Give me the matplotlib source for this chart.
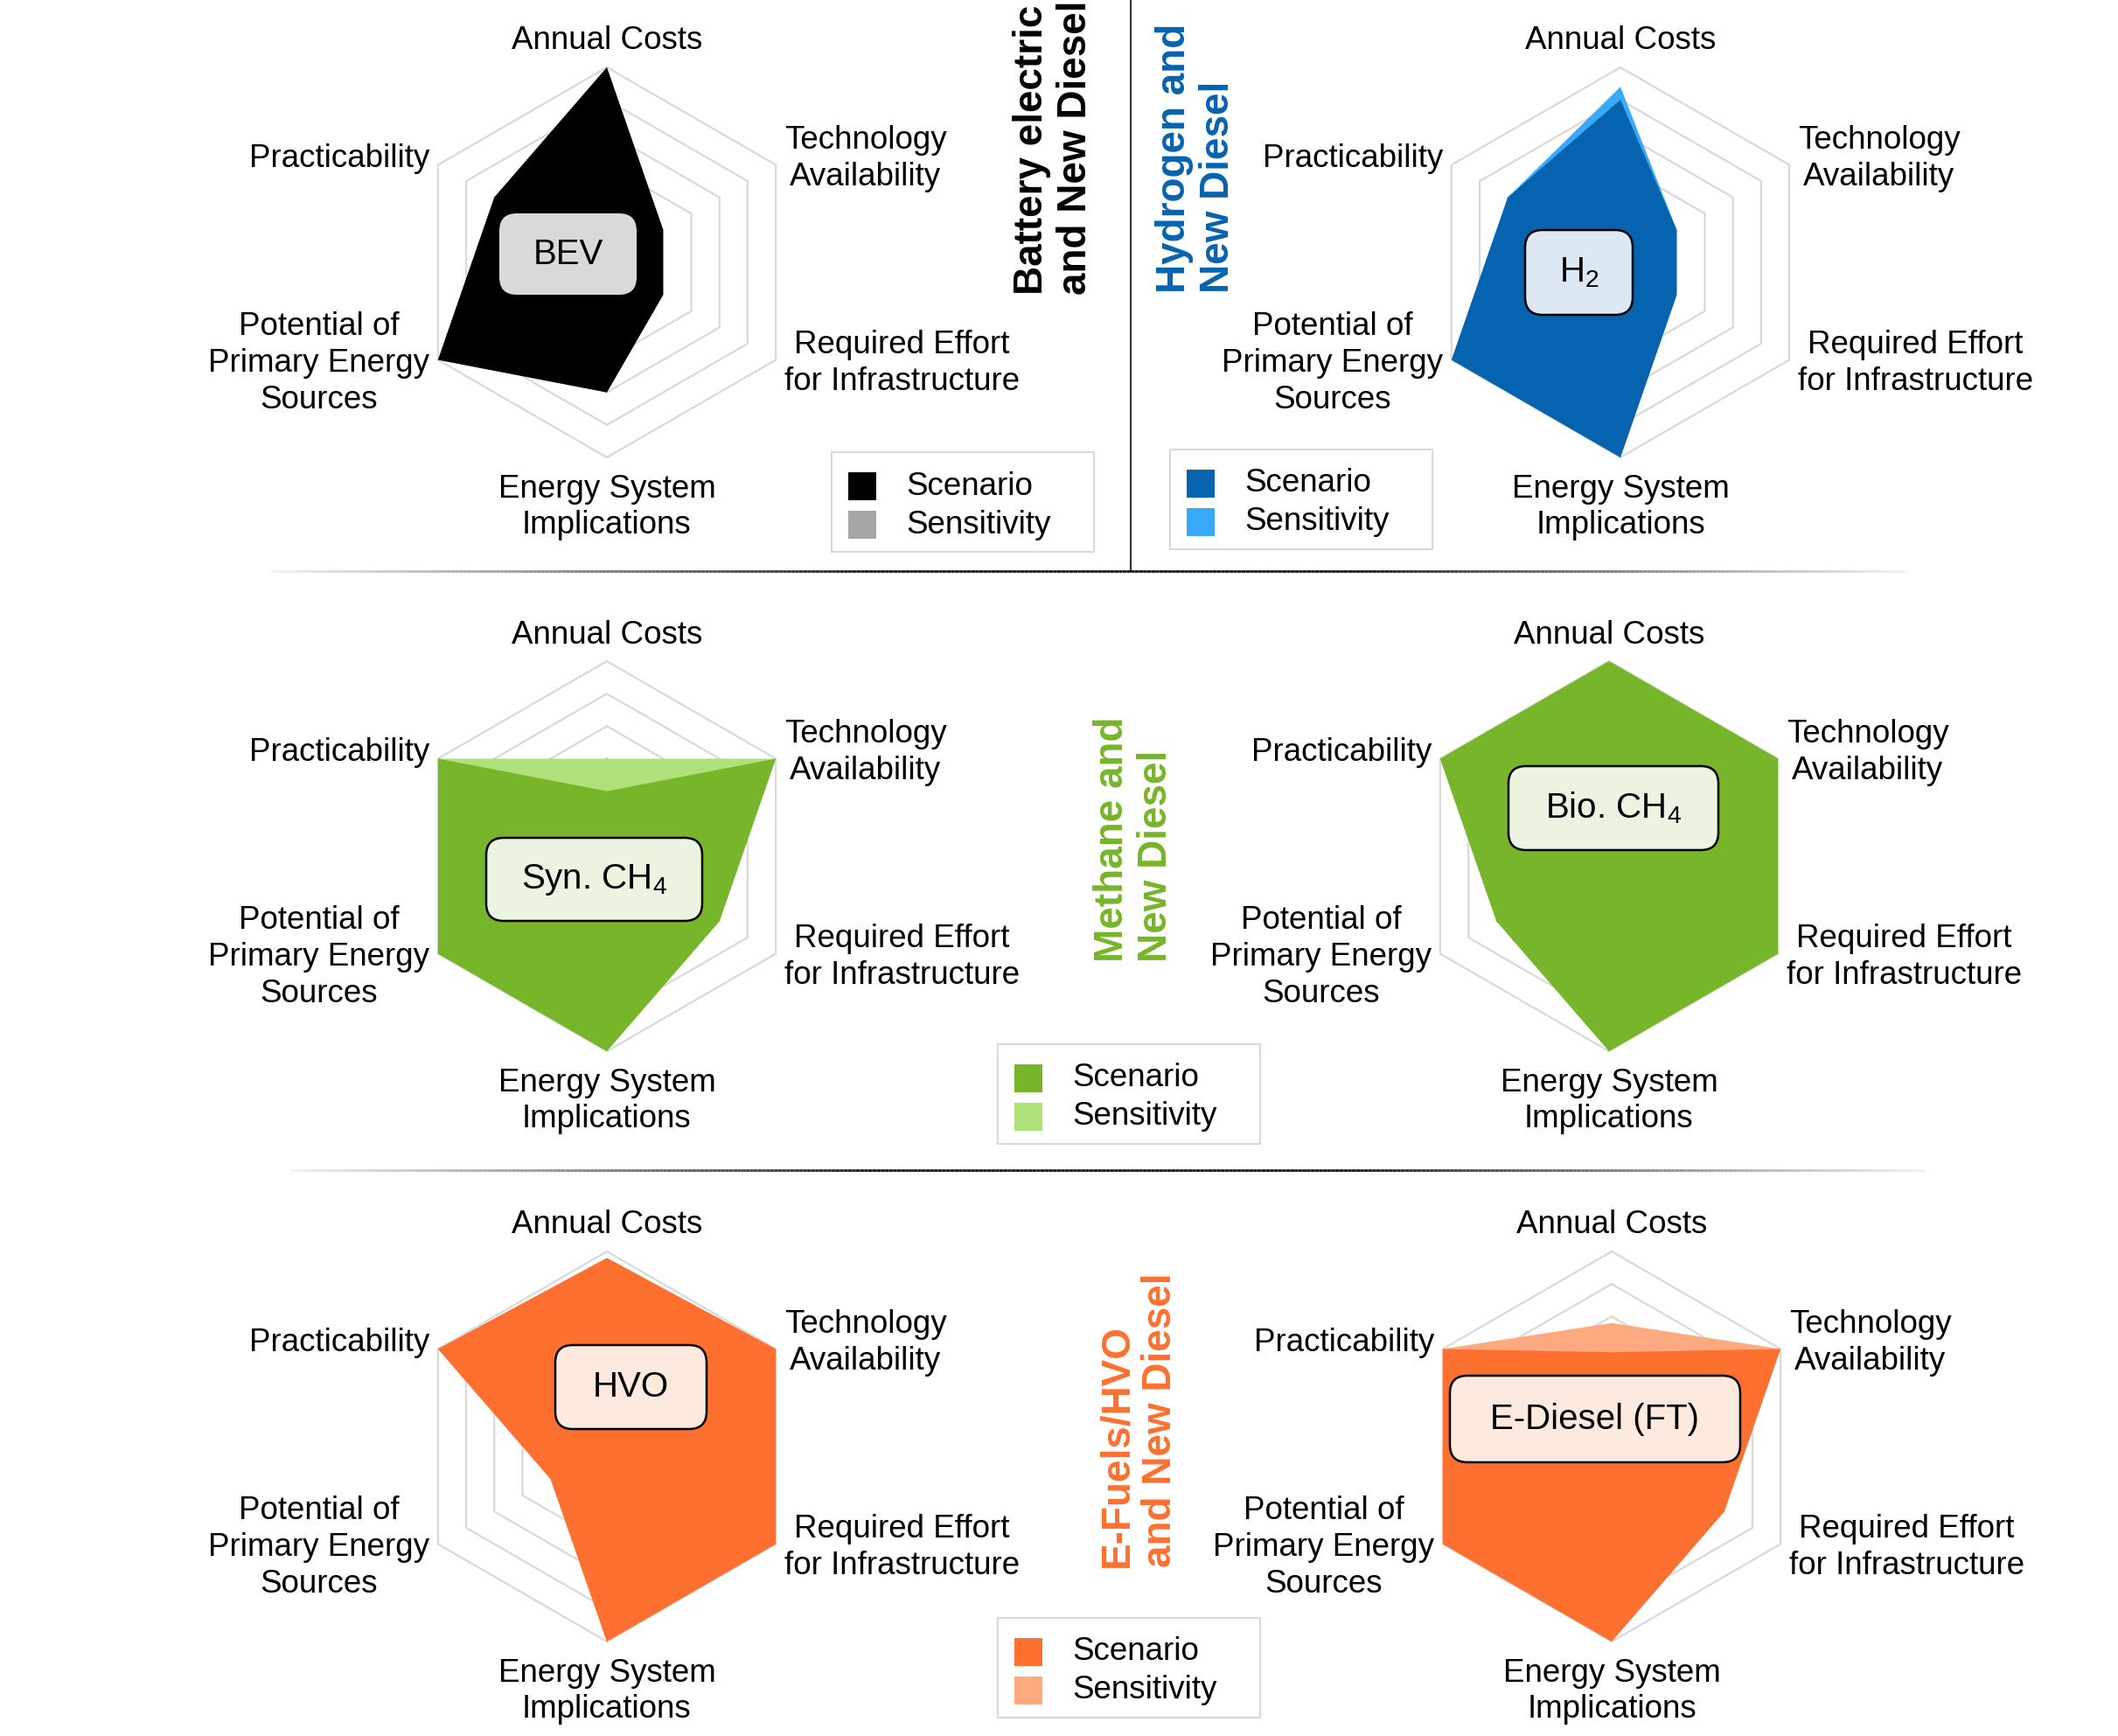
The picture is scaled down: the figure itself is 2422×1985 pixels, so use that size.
import numpy as np
import matplotlib
matplotlib.use("Agg")
import matplotlib.pyplot as plt
from matplotlib.patches import FancyBboxPatch, Rectangle
from matplotlib.collections import LineCollection

plt.rcParams['font.family'] = ['Liberation Sans', 'DejaVu Sans']
plt.rcParams['mathtext.fontset'] = 'custom'
plt.rcParams['mathtext.rm'] = 'Liberation Sans'
plt.rcParams['mathtext.it'] = 'Liberation Sans:italic'
plt.rcParams['mathtext.bf'] = 'Liberation Sans:bold'

# criteria, clockwise from the top
criteria = ["Annual Costs", "Technology\nAvailability", "Required Effort\nfor Infrastructure",
            "Energy System\nImplications", "Potential of\nPrimary Energy\nSources", "Practicability"]
ring_levels = [3, 4, 5, 6]
legend_labels = ["Scenario", "Sensitivity"]

# scores (0 = worst, 6 = best)
bev_scenario = [6, 2, 2, 4, 6, 4]
bev_sensitivity = [6, 2, 2, 4, 6, 4]
h2_scenario = [5, 2, 2, 6, 6, 4]
h2_sensitivity = [5.4, 2, 2, 6, 6, 4]
syn_ch4_scenario = [2, 6, 4, 6, 6, 6]
syn_ch4_sensitivity = [3, 6, 4, 6, 6, 6]
bio_ch4_scenario = [6, 6, 6, 6, 4, 6]
bio_ch4_sensitivity = [6, 6, 6, 6, 4, 6]
hvo_scenario = [5.8, 6, 6, 6, 2, 6]
hvo_sensitivity = [5.8, 6, 6, 6, 2, 6]
ediesel_scenario = [2.9, 6, 4, 6, 6, 6]
ediesel_sensitivity = [3.8, 6, 4, 6, 6, 6]

W, H = 2422, 1985
fig = plt.figure(figsize=(W / 100, H / 100), dpi=100)

FS = 26.5
# offsets (px) of the criterion labels from the outer vertex
label_pos = [(0, 30, 'center'), (10, 7, 'left'), (10, -4, 'left'),
             (0, -57, 'center'), (-10, -4, 'right'), (-10, 7, 'right')]


def radar(cx, cy, scen, sens, c_scen, c_sens):
    R = 223
    ax = fig.add_axes([(cx - R) / W, 1 - (cy + R) / H, 2 * R / W, 2 * R / H], projection='polar')
    ax.set_theta_zero_location('N')
    ax.set_theta_direction(-1)
    ax.set_ylim(0, 6)
    ax.set_xticks([])
    ax.set_yticks([])
    ax.grid(False)
    ax.spines['polar'].set_visible(False)
    ax.patch.set_visible(False)
    ang = np.linspace(0, 2 * np.pi, len(criteria), endpoint=False)
    ang_c = np.append(ang, ang[0])
    for r in ring_levels:
        ax.plot(ang_c, [r] * len(ang_c), color='#d9d9d9', lw=1.6, zorder=1,
                solid_joinstyle='miter', clip_on=False)
    ax.fill(ang, sens, color=c_sens, lw=0, zorder=2, clip_on=False)
    ax.fill(ang, scen, color=c_scen, lw=0, zorder=3, clip_on=False)
    for a, lab, (dx, dy, ha) in zip(ang, criteria, label_pos):
        ax.annotate(lab, xy=(a, 6), xytext=(dx, dy), textcoords='offset pixels',
                    ha=ha, va='center', multialignment='center', fontsize=FS,
                    linespacing=1.25, annotation_clip=False)
    return ax


blue, blue_l = '#0563b0', '#38aaf8'
green, green_l = '#77b52a', '#afe07a'
orange, orange_l = '#fd7030', '#fdaa80'

radar(694, 300, bev_scenario, bev_sensitivity, '#000000', '#a6a6a6')
radar(1853, 300, h2_scenario, h2_sensitivity, blue, blue_l)
radar(694, 979, syn_ch4_scenario, syn_ch4_sensitivity, green, green_l)
radar(1840, 979, bio_ch4_scenario, bio_ch4_sensitivity, green, green_l)
radar(694, 1654, hvo_scenario, hvo_sensitivity, orange, orange_l)
radar(1843, 1654, ediesel_scenario, ediesel_sensitivity, orange, orange_l)

# overlay in pixel coordinates
ax0 = fig.add_axes([0, 0, 1, 1])
ax0.set_xlim(0, W)
ax0.set_ylim(H, 0)
ax0.axis('off')


def tag(x0, y0, x1, y1, text, face, edge):
    ax0.add_patch(FancyBboxPatch((x0, y0), x1 - x0, y1 - y0,
                                 boxstyle='round,pad=0,rounding_size=20',
                                 fc=face, ec=edge, lw=1.8, zorder=5))
    ax0.text((x0 + x1) / 2, (y0 + y1) / 2, text, ha='center', va='center',
             fontsize=29, zorder=6)


tag(571, 244, 728, 337, "BEV", '#d9d9d9', 'none')
tag(1744, 263, 1867, 360, r"H$_\mathrm{2}$", '#dce8f4', 'black')
tag(556, 958, 803, 1053, r"Syn. CH$_\mathrm{4}$", '#ebf3e1', 'black')
tag(1725, 876, 1965, 972, r"Bio. CH$_\mathrm{4}$", '#ebf3e1', 'black')
tag(635, 1538, 808, 1634, "HVO", '#fde9dd', 'black')
tag(1658, 1573, 1990, 1672, "E-Diesel (FT)", '#fde9dd', 'black')


def title(x, y, text, color):
    ax0.text(x, y, text, rotation=90, ha='center', va='bottom', multialignment='left',
             fontsize=33, fontweight='bold', color=color, linespacing=1.15)


title(1205, 337, "Battery electric\nand New Diesel", 'black')
title(1368, 335, "Hydrogen and\nNew Diesel", blue)
title(1297, 1100, "Methane and\nNew Diesel", green)
title(1302, 1792, "E-Fuels/HVO\nand New Diesel", orange)


def legend_box(x, y, c1, c2):
    ax0.add_patch(Rectangle((x, y), 300, 114, fill=False, ec='#d9d9d9', lw=1.5))
    for k, (c, lab) in enumerate(zip([c1, c2], legend_labels)):
        ax0.add_patch(Rectangle((x + 19, y + 23 + 44 * k), 32, 32, fc=c, ec='none'))
        ax0.text(x + 85, y + 39 + 44 * k, lab, ha='left', va='center', fontsize=FS)


legend_box(951, 517, '#000000', '#a6a6a6')
legend_box(1338, 514, blue, blue_l)
legend_box(1141, 1194, green, green_l)
legend_box(1141, 1850, orange, orange_l)


def fade_line(x0, x1, xc, y):
    xs = np.linspace(x0, x1, 400)
    segs = [[(xs[i], y), (xs[i + 1], y)] for i in range(len(xs) - 1)]
    mid = (xs[:-1] + xs[1:]) / 2
    t = np.where(mid < xc, (xc - mid) / (xc - x0), (mid - xc) / (x1 - xc))
    g = np.clip(0.1 + 0.85 * (t - 0.3) / 0.7, 0.1, 0.95)
    ax0.add_collection(LineCollection(segs, colors=[(v, v, v) for v in g], linewidths=2))


ax0.plot([1293, 1293], [0, 653], color='#333333', lw=1.5)
fade_line(309, 2178, 1293, 653)
fade_line(332, 2201, 1280, 1338)

fig.savefig("out.png", dpi=100)
